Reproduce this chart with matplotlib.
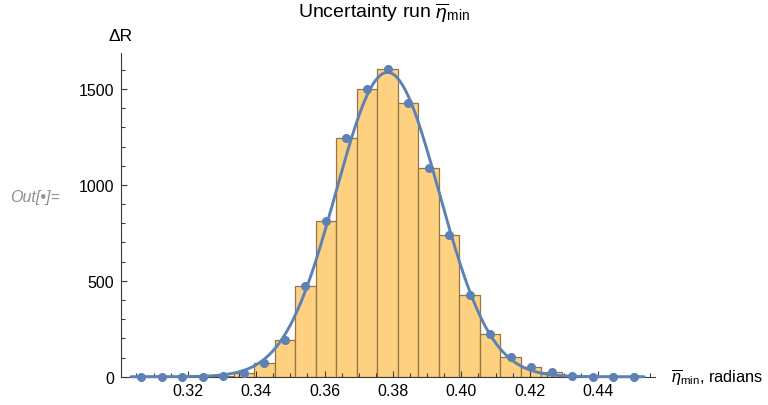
import matplotlib
matplotlib.use("Agg")
import matplotlib.pyplot as plt
from matplotlib.ticker import MultipleLocator
import numpy as np

plt.rcParams['font.family'] = ['Liberation Sans', 'DejaVu Sans']
plt.rcParams['mathtext.fontset'] = 'custom'
plt.rcParams['mathtext.rm'] = 'Liberation Sans'
plt.rcParams['mathtext.it'] = 'Liberation Sans:italic'

# histogram of eta_min over the uncertainty run (bin width 0.006 rad)
bin_width = 0.006
bin_centers = [0.3064, 0.3124, 0.3184, 0.3244, 0.3304, 0.3364, 0.3424, 0.3484,
               0.3544, 0.3604, 0.3664, 0.3724, 0.3784, 0.3844, 0.3904, 0.3964,
               0.4024, 0.4084, 0.4144, 0.4204, 0.4264, 0.4324, 0.4384, 0.4444,
               0.4504]
counts = [0, 0, 0, 1, 5, 20, 70, 191,
          473, 810, 1243, 1499, 1603, 1425, 1088, 737,
          424, 222, 102, 53, 24, 6, 1, 0,
          0]

x_ticks = [0.32, 0.34, 0.36, 0.38, 0.40, 0.42, 0.44]
y_ticks = [0, 500, 1000, 1500]

eta = r'$\overline{\eta}_{\mathrm{min}}$'

BLUE = '#5E81B5'

# normal curve from the moments of the binned data
c = np.array(counts, dtype=float)
xc = np.array(bin_centers)
mu = (c * xc).sum() / c.sum()
sd = np.sqrt((c * (xc - mu) ** 2).sum() / c.sum())
amp = c.sum() * bin_width / (sd * np.sqrt(2 * np.pi))
xs = np.linspace(xc[0] - bin_width / 2, xc[-1] + bin_width / 2, 400)
ys = amp * np.exp(-0.5 * ((xs - mu) / sd) ** 2)

W, H = 768, 406
fig = plt.figure(figsize=(W / 100, H / 100), dpi=100)
ax = fig.add_axes([120.7 / W, 1 - 377.7 / H, (655 - 120.7) / W, (377.7 - 54) / H])

ax.bar(bin_centers, counts, width=bin_width, color='#FDD17F',
       edgecolor='#927648', linewidth=0.9, zorder=1)
ax.plot(xs, ys, color=BLUE, lw=2.1, zorder=3, clip_on=False,
        solid_capstyle='round')
ax.plot(bin_centers, counts, 'o', color=BLUE, ms=5.5, zorder=4, clip_on=False)

ax.set_xlim(0.3004, 0.4566)
ax.set_ylim(0, 1688)

for s in ['top', 'right']:
    ax.spines[s].set_visible(False)
for s in ['left', 'bottom']:
    ax.spines[s].set_color('#3a3a3a')
    ax.spines[s].set_linewidth(0.8)
    ax.spines[s].set_zorder(2.5)

ax.set_xticks(x_ticks)
ax.set_xticklabels(['%.2f' % v for v in x_ticks])
ax.set_yticks(y_ticks)
ax.xaxis.set_minor_locator(MultipleLocator(0.005))
ax.yaxis.set_minor_locator(MultipleLocator(100))
ax.tick_params(which='both', direction='in', color='#3a3a3a', width=0.8,
               labelsize=11.5)
ax.tick_params(which='major', length=4.5)
ax.tick_params(which='minor', length=2.6)
ax.tick_params(axis='x', pad=4.5)
ax.tick_params(axis='y', pad=4.5)

fig.text(383.5 / W, 1 - 18.5 / H, 'Uncertainty run ' + eta, ha='center',
         va='baseline', fontsize=14)
fig.text(108.3 / W, 1 - 40.7 / H, 'ΔR', ha='left', va='baseline', fontsize=12.5)
fig.text(670.7 / W, 1 - 381.7 / H, eta + ', radians', ha='left',
         va='baseline', fontsize=11.8)
fig.text(9.7 / W, 1 - 202.3 / H, 'Out[•]=', ha='left', va='baseline',
         fontsize=11.5, style='italic', color='#909090')

fig.savefig('out.png', dpi=100)
